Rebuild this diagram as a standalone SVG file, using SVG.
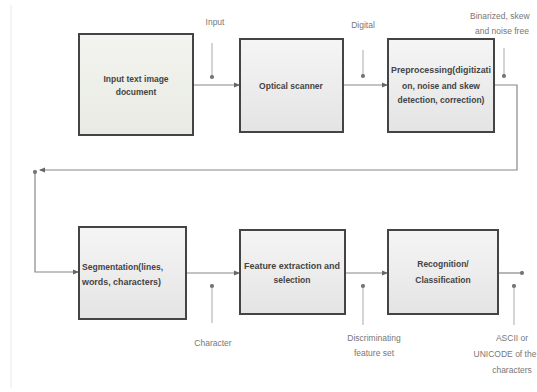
<svg xmlns="http://www.w3.org/2000/svg" width="537" height="392" viewBox="0 0 537 392">
<defs>
<linearGradient id="g" x1="0" y1="0" x2="0" y2="1"><stop offset="0" stop-color="#f5f5f5"/><stop offset="1" stop-color="#e4e4e4"/></linearGradient>
<linearGradient id="g1" x1="0" y1="0" x2="0" y2="1"><stop offset="0" stop-color="#f3f4ef"/><stop offset="1" stop-color="#e8eae3"/></linearGradient>
<marker id="a" viewBox="0 0 6 6" refX="5" refY="3" markerWidth="6" markerHeight="6" orient="auto" markerUnits="userSpaceOnUse"><path d="M0,0.5 L6,3 L0,5.5 Z" fill="#666"/></marker>
<marker id="d" viewBox="0 0 6 6" refX="3" refY="3" markerWidth="5" markerHeight="5" orient="auto" markerUnits="userSpaceOnUse"><circle cx="3" cy="3" r="2.5" fill="#777"/></marker>
</defs>
<style>
.box{stroke:#444;stroke-width:2}
.bt{font-family:"Liberation Sans",Arial,sans-serif;font-size:8.5px;font-weight:bold;fill:#444}
.lb{font-family:"Liberation Sans",Arial,sans-serif;font-size:8.5px;fill:#777}
.c{stroke:#888;stroke-width:1.2;fill:none}
.in{stroke:#aaa;stroke-width:1;fill:none}
</style>
<rect width="537" height="392" fill="#fff"/>
<line x1="11" y1="5" x2="11" y2="388" stroke="#f0f0f0" stroke-width="1.5"/>
<g id="connectors">
<line class="c" x1="193" y1="85" x2="239" y2="85" marker-end="url(#a)"/>
<line class="c" x1="343" y1="85" x2="387" y2="85" marker-end="url(#a)"/>
<polyline class="c" points="494,85 517,85 517,170 40,170" marker-end="url(#a)"/>
<polyline class="c" points="35,172 35,272 78,272" marker-start="url(#d)" marker-end="url(#a)"/>
<line class="c" x1="186" y1="273" x2="239" y2="273" marker-end="url(#a)"/>
<line class="c" x1="345" y1="273" x2="387" y2="273" marker-end="url(#a)"/>
<line class="c" x1="498" y1="273" x2="522" y2="273" marker-end="url(#d)"/>
<line class="in" x1="212" y1="43" x2="212" y2="77" marker-end="url(#d)"/>
<line class="in" x1="363" y1="50" x2="363" y2="76" marker-end="url(#d)"/>
<line class="in" x1="504" y1="48" x2="504" y2="76" marker-end="url(#d)"/>
<line class="in" x1="212" y1="323" x2="212" y2="286" marker-end="url(#d)"/>
<line class="in" x1="363" y1="325" x2="363" y2="286" marker-end="url(#d)"/>
<line class="in" x1="514" y1="325" x2="514" y2="286" marker-end="url(#d)"/>
</g>
<g id="n1"><rect class="box" x="79" y="34" width="114" height="101" fill="url(#g1)"/>
<text class="bt" x="136" y="82" text-anchor="middle">Input text image</text>
<text class="bt" x="136" y="95" text-anchor="middle">document</text></g>
<g id="n2"><rect class="box" x="240" y="39" width="103" height="93" fill="url(#g)"/>
<text class="bt" x="291" y="89" text-anchor="middle">Optical scanner</text></g>
<g id="n3"><rect class="box" x="388" y="39" width="106" height="93" fill="url(#g)"/>
<text class="bt" x="441" y="73" text-anchor="middle" textLength="100" lengthAdjust="spacingAndGlyphs">Preprocessing(digitizati</text>
<text class="bt" x="441" y="89" text-anchor="middle">on, noise and skew</text>
<text class="bt" x="441" y="103" text-anchor="middle">detection, correction)</text></g>
<g id="n4"><rect class="box" x="79" y="227" width="107" height="92" fill="url(#g)"/>
<text class="bt" x="82" y="270" textLength="81" lengthAdjust="spacingAndGlyphs">Segmentation(lines,</text>
<text class="bt" x="82" y="285" textLength="79" lengthAdjust="spacingAndGlyphs">words, characters)</text></g>
<g id="n5"><rect class="box" x="240" y="230" width="105" height="84" fill="url(#g)"/>
<text class="bt" x="292" y="269" text-anchor="middle" textLength="96" lengthAdjust="spacingAndGlyphs">Feature extraction and</text>
<text class="bt" x="292" y="283" text-anchor="middle">selection</text></g>
<g id="n6"><rect class="box" x="388" y="230" width="110" height="84" fill="url(#g)"/>
<text class="bt" x="443" y="267" text-anchor="middle">Recognition/</text>
<text class="bt" x="443" y="283" text-anchor="middle">Classification</text></g>
<g id="labels">
<text class="lb" x="215" y="25" text-anchor="middle">Input</text>
<text class="lb" x="363" y="28" text-anchor="middle">Digital</text>
<text class="lb" x="470" y="19">Binarized, skew</text>
<text class="lb" x="475" y="34">and noise free</text>
<text class="lb" x="213" y="346" text-anchor="middle">Character</text>
<text class="lb" x="374" y="341" text-anchor="middle">Discriminating</text>
<text class="lb" x="374" y="356" text-anchor="middle">feature set</text>
<text class="lb" x="512" y="341" text-anchor="middle">ASCII or</text>
<text class="lb" x="505" y="357" text-anchor="middle">UNICODE of the</text>
<text class="lb" x="512" y="373" text-anchor="middle">characters</text>
</g>
</svg>
